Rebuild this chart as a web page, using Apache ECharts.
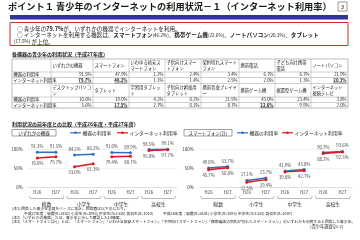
<!DOCTYPE html>
<html>
<head>
<meta charset="utf-8">
<script src="https://cdn.jsdelivr.net/npm/echarts@6/dist/echarts.min.js"></script>
<style>
html, body { margin: 0; padding: 0; background: #fff; }
#main { width: 360px; height: 240px; }
</style>
</head>
<body>
<div id="main"></div>
<script>
const FONT = '"Noto Sans CJK JP", "Noto Sans CJK SC", sans-serif';

// 折れ線グラフのデータ
const years = ['H26', 'H27', 'H26', 'H27', 'H26', 'H27', 'H26', 'H27'];
const groups = ['総数', '小学生', '中学生', '高校生'];
const anyDevice = [91.3, 91.5, 84.2, 86.2, 91.0, 89.9, 98.5, 99.1];
const anyInternet = [76.0, 79.7, 53.0, 61.3, 79.4, 80.7, 95.8, 97.7];
const smartDevice = [49.8, 53.7, 17.1, 23.7, 41.9, 45.8, 90.7, 93.6];
const smartInternet = [45.7, 50.8, 12.5, 19.4, 39.8, 42.7, 88.2, 92.3];
const yTicks = [0, 50, 100];
const seriesNames = ['機器の利用率', 'インターネット利用率'];

// 表のデータ
const rowLabels = ['機器の利用率', 'インターネット利用率'];
const devices1 = ['いずれかの機器', 'スマートフォン', 'いわゆる格安スマートフォン', '子供向けスマートフォン', '契約切れスマートフォン', '携帯電話', '子ども向け携帯電話', 'ノートパソコン'];
const use1 = ['91.5%', '47.9%', '1.2%', '2.4%', '3.4%', '6.7%', '6.7%', '21.9%'];
const net1 = ['79.7%', '46.2%', '1.1%', '1.4%', '2.5%', '2.0%', '1.3%', '20.3%'];
const devices2 = ['デスクトップパソコン', 'タブレット', '学習用タブレット', '子供向け娯楽用タブレット', '携帯音楽プレイヤー', '携帯ゲーム機', '据置型ゲーム機', 'インターネット接続テレビ'];
const use2 = ['10.6%', '19.0%', '4.2%', '0.2%', '21.5%', '43.0%', '23.4%', '3.8%'];
const net2 = ['5.6%', '17.5%', '2.7%', '0.1%', '8.7%', '22.6%', '9.9%', '2.0%'];
const hi1 = [0, 1, 7];
const hi2 = [1, 5];

const BLUE = '#2f6fbf';
const RED = '#e0151f';

const chart = echarts.init(document.getElementById('main'), null, { renderer: 'canvas' });

function fnt(size, bold) {
  return (bold ? 'bold ' : '') + size + 'px ' + FONT;
}
function txt(x, y, text, size, o) {
  o = o || {};
  return {
    type: 'text', x: x, y: y, silent: true, z: 10,
    style: {
      text: text,
      font: fnt(size, o.bold),
      fontSize: size, fontFamily: FONT, fontWeight: o.bold ? 'bold' : 'normal',
      fill: o.color || '#222',
      align: o.align || 'left', textAlign: o.align || 'left',
      verticalAlign: o.va || 'middle', textVerticalAlign: o.va || 'middle',
      width: o.width, overflow: o.width ? 'break' : undefined,
      lineHeight: o.lineHeight,
      rich: o.rich
    }
  };
}
function line(x1, y1, x2, y2, color, w) {
  return { type: 'line', silent: true, z: 5, shape: { x1: x1, y1: y1, x2: x2, y2: y2 }, style: { stroke: color || '#999', lineWidth: w || 0.5 } };
}

const els = [];
// タイトル
els.push(txt(8, 7, 'ポイント１ 青少年のインターネットの利用状況－１（インターネット利用率）', 9.2, { bold: true, color: '#1a1a1a' }));
els.push({ type: 'rect', silent: true, shape: { x: 338, y: 2, width: 9, height: 9 }, style: { fill: '#fff', stroke: '#555', lineWidth: 0.6 } });
els.push(txt(342.5, 6.8, '3', 5.5, { align: 'center' }));
els.push({ type: 'rect', silent: true, shape: { x: 10, y: 15, width: 338, height: 4.5 }, style: { fill: '#2e3592' } });

// 要点ボックス
els.push({ type: 'rect', silent: true, shape: { x: 10, y: 22.5, width: 338, height: 23 }, style: { fill: '#fff', stroke: '#d42a2a', lineWidth: 1 } });
const boxRich = {
  n: { font: fnt(5.6), fontSize: 5.6, fontFamily: FONT, fill: '#222' },
  b: { font: fnt(5.6, true), fontWeight: 'bold', fontSize: 5.6, fontFamily: FONT, fill: '#222' },
  s: { font: fnt(4.6), fontSize: 4.6, fontFamily: FONT, fill: '#222' }
};
els.push(txt(17, 28.7, '{n|○ 青少年の}{b|79.7%}{n|が、いずれかの機器でインターネットを利用。}', 5.6, { rich: boxRich }));
els.push(txt(17, 35.2, '{n|○ インターネットを利用する機器は、}{b|スマートフォン}{s|(46.2%)}{n|、}{b|携帯ゲーム機}{s|(22.6%)}{n|、}{b|ノートパソコン}{s|(20.3%)}{n|、}{b|タブレット}', 5.6, { rich: boxRich }));
els.push(txt(14, 41.5, '{s|(17.5%)}{n| が上位。}', 5.6, { rich: boxRich }));

// 表
els.push(txt(12, 54, '各機器の青少年の利用状況（平成27年度）', 5, { bold: true }));
els.push(line(12, 57, 105, 57, '#222', 0.5));
const colX = [12, 51, 93, 129, 165, 201, 239, 275, 311, 348];
const rowY = [59, 72, 77.5, 83.5, 97, 102.5, 108];
els.push({ type: 'rect', silent: true, shape: { x: colX[0], y: rowY[0], width: colX[9] - colX[0], height: rowY[6] - rowY[0] }, style: { fill: '#fff', stroke: '#777', lineWidth: 0.5 } });
rowY.slice(1, 6).forEach(y => els.push(line(colX[0], y, colX[9], y, '#888', 0.4)));
colX.slice(1, 9).forEach(x => els.push(line(x, rowY[0], x, rowY[6], '#888', 0.4)));
function block(r0, devs, useVals, netVals, hi) {
  const cy = r => (rowY[r] + rowY[r + 1]) / 2;
  devs.forEach((d, i) => {
    els.push(txt(colX[i + 1] + 1.5, cy(r0), d, 4.3, { width: colX[i + 2] - colX[i + 1] - 3, lineHeight: 5.3 }));
    els.push(txt(colX[i + 2] - 1.5, cy(r0 + 1), useVals[i], 4.3, { align: 'right' }));
    const b = hi.indexOf(i) >= 0;
    els.push(txt(colX[i + 2] - 1.5, cy(r0 + 2), netVals[i], 4.3, { align: 'right', bold: b }));
    if (b) els.push(line(colX[i + 2] - 2 - netVals[i].length * 2.5, cy(r0 + 2) + 2.4, colX[i + 2] - 1.5, cy(r0 + 2) + 2.4, '#222', 0.5));
  });
  rowLabels.forEach((l, k) => els.push(txt(colX[0] + 1.5, cy(r0 + 1 + k), l, 4.3)));
}
block(0, devices1, use1, net1, hi1);
block(3, devices2, use2, net2, hi2);

// 前年度比較
els.push(txt(12, 124, '利用状況の前年度との比較（平成26年度・平成27年度）', 5, { bold: true }));
els.push(line(12, 127, 131, 127, '#222', 0.5));
els.push({ type: 'rect', silent: true, shape: { x: 12, y: 129.5, width: 44, height: 6.5 }, style: { fill: '#fff', stroke: '#444', lineWidth: 0.5 } });
els.push(txt(34, 132.8, 'いずれかの機器', 4.5, { align: 'center' }));
els.push({ type: 'rect', silent: true, shape: { x: 184, y: 129.5, width: 48, height: 6.5 }, style: { fill: '#fff', stroke: '#444', lineWidth: 0.5 } });
els.push(txt(208, 132.8, 'スマートフォン(計)', 4.5, { align: 'center' }));

// 凡例
function legendItem(x, color, name) {
  els.push(line(x, 132.8, x + 11, 132.8, color, 1.2));
  els.push({ type: 'circle', silent: true, z: 6, shape: { cx: x + 5.5, cy: 132.8, r: 1.3 }, style: { fill: color } });
  els.push(txt(x + 12.5, 132.8, name, 4.8));
}
legendItem(70, BLUE, seriesNames[0]);
legendItem(117, RED, seriesNames[1]);
legendItem(237, BLUE, seriesNames[0]);
legendItem(282, RED, seriesNames[1]);

// 注記
els.push(txt(12, 209, '(注1) 回答した青少年全員をベースに集計。回答数は以下のとおり。', 3.8));
els.push(txt(24, 213.3, '平成27年度：総数(n=3442) 小学生(n=1093) 中学生(n=1330) 高校生(n=1010)', 3.8));
els.push(txt(163, 213.3, '平成26年度：総数(n=3441) 小学生(n=1093) 中学生(n=1330) 高校生(n=1007)', 3.8));
els.push(txt(12, 217.6, '(注2)「いずれかの機器」とは、青少年に示して確認した14機器。', 3.8));
els.push(txt(12, 222, '(注3)「スマートフォン(計)」とは、「スマートフォン」「いわゆる格安スマートフォン」「子供向けスマートフォン」「携帯電話の契約が切れたスマートフォン」のいずれかを利用すると回答した青少年。', 3.8));
els.push(txt(346, 226.5, '（青少年調査Q1-2）', 4.2, { align: 'right' }));

function pairSeries(values, name, color, ai, pos) {
  return groups.map((g, gi) => ({
    type: 'line', name: name, xAxisIndex: ai, yAxisIndex: ai,
    data: values.map((v, i) => Math.floor(i / 2) === gi ? v : '-'),
    symbol: 'circle', symbolSize: 3, showSymbol: true,
    lineStyle: { width: 1.5, color: color }, itemStyle: { color: color },
    label: { show: true, position: pos, distance: 2, fontSize: 4.3, fontFamily: FONT, color: '#444', formatter: p => p.value.toFixed(1) + '%' },
    silent: true
  }));
}

const grids = [{ left: 28, top: 149, width: 149, height: 38 }, { left: 199, top: 149, width: 153, height: 38 }];
const option = {
  backgroundColor: '#fff',
  animation: false,
  textStyle: { fontFamily: FONT },
  grid: grids,
  xAxis: [0, 1].map(i => ({
    type: 'category', gridIndex: i, data: years,
    axisLine: { lineStyle: { color: '#ccc', width: 0.5 } }, axisTick: { show: false },
    axisLabel: { fontSize: 4.3, color: '#333', margin: 3 }
  })).concat([0, 1].map(i => ({
    type: 'category', gridIndex: i, data: groups, position: 'bottom', offset: 12,
    axisLine: { show: false }, axisTick: { show: false },
    axisLabel: { fontSize: 4.8, color: '#222', margin: 3 }
  }))),
  yAxis: [0, 1].map(i => ({
    type: 'value', gridIndex: i, min: yTicks[0], max: yTicks[2], interval: 50,
    axisLine: { show: false }, axisTick: { show: false },
    splitLine: { lineStyle: { color: '#e2e2e2', width: 0.5 } },
    axisLabel: { fontSize: 4.5, color: '#333', margin: 5, formatter: v => v + '%' }
  })),
  series: [].concat(
    pairSeries(anyDevice, seriesNames[0], BLUE, 0, 'top'),
    pairSeries(anyInternet, seriesNames[1], RED, 0, 'bottom'),
    pairSeries(smartDevice, seriesNames[0], BLUE, 1, 'top'),
    pairSeries(smartInternet, seriesNames[1], RED, 1, 'bottom')
  ),
  graphic: { elements: els }
};
chart.setOption(option);

// 年度ペアの下の括弧
const brackets = [];
[0, 1].forEach(ai => {
  groups.forEach((g, gi) => {
    const a = chart.convertToPixel({ xAxisIndex: ai }, gi * 2);
    const b = chart.convertToPixel({ xAxisIndex: ai }, gi * 2 + 1);
    const x1 = a - 8, x2 = b + 8, y = 198.5;
    brackets.push({ type: 'polyline', silent: true, shape: { points: [[x1, y - 2.5], [x1 + 1, y], [x2 - 1, y], [x2, y - 2.5]] }, style: { stroke: '#777', lineWidth: 0.5, fill: null } });
  });
});
chart.setOption({ graphic: { elements: els.concat(brackets) } }, { replaceMerge: ['graphic'] });
</script>
</body>
</html>
